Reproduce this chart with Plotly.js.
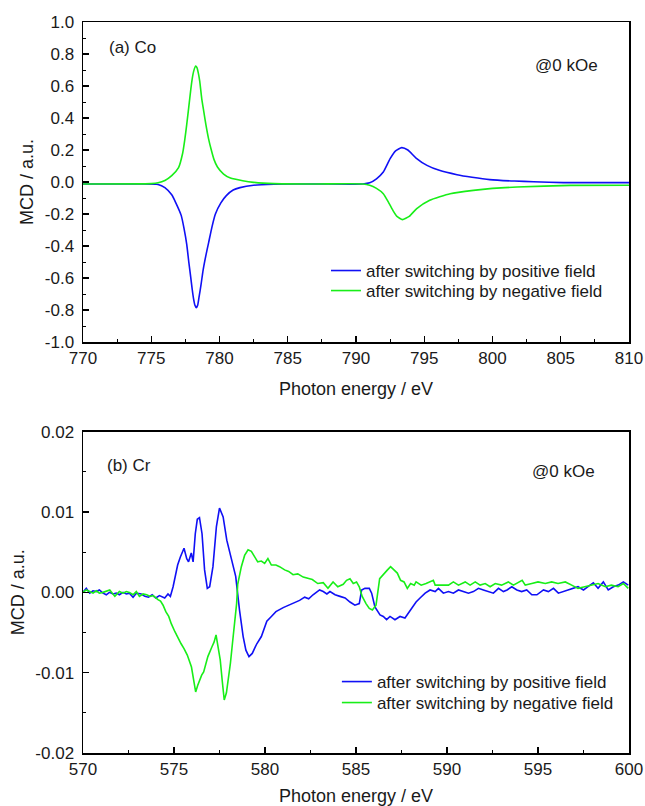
<!DOCTYPE html>
<html>
<head>
<meta charset="utf-8">
<script src="https://cdn.plot.ly/plotly-3.0.1.min.js"></script>
<style>html,body{margin:0;padding:0;background:#fff;}#chart{width:645px;height:806px;}</style>
</head>
<body>
<div id="chart"></div>
<script>
// ---------- (a) Co L-edge MCD ----------
const coPosE = [770,774,775.5,776.0,776.5,776.8,777.2,777.4,777.6,777.75,777.9,778.0,778.1,778.2,778.3,778.4,778.5,778.65,778.8,779.0,779.2,779.45,779.7,780.1,780.5,781.0,781.5,782.5,784,787,790.5,791.0,791.5,792.0,792.5,792.9,793.35,793.8,794.4,795.2,796.1,797.4,798.5,799.8,801.6,803,805.2,810];
const coPosMCD = [-0.012,-0.012,-0.015,-0.035,-0.08,-0.13,-0.21,-0.29,-0.39,-0.5,-0.6,-0.67,-0.73,-0.77,-0.786,-0.77,-0.72,-0.64,-0.55,-0.46,-0.38,-0.28,-0.2,-0.13,-0.085,-0.05,-0.035,-0.02,-0.014,-0.012,-0.012,-0.005,0.02,0.062,0.146,0.195,0.215,0.2,0.15,0.104,0.073,0.046,0.03,0.015,0.006,0.002,-0.004,-0.004];
const coNegE = [770,775,775.5,776.0,776.5,777.0,777.3,777.45,777.6,777.75,777.9,778.0,778.1,778.25,778.35,778.45,778.55,778.7,778.85,779.0,779.2,779.4,779.6,779.85,780.3,780.8,781.7,782.5,784,787,790.5,791.0,791.5,792.0,792.4,792.7,793.0,793.4,793.9,794.45,795.4,796.9,798.6,800,801.8,805.7,810];
const coNegMCD = [-0.012,-0.01,-0.005,0.01,0.04,0.09,0.18,0.26,0.36,0.47,0.58,0.645,0.69,0.725,0.715,0.68,0.63,0.52,0.44,0.36,0.27,0.2,0.14,0.094,0.05,0.025,0.008,-0.002,-0.01,-0.012,-0.012,-0.02,-0.04,-0.073,-0.13,-0.177,-0.215,-0.235,-0.215,-0.166,-0.114,-0.073,-0.052,-0.04,-0.031,-0.021,-0.02];

// ---------- (b) Cr L-edge MCD ----------
const crPosE = [570.0,570.18,570.37,570.55,570.73,570.9,571.1,571.28,571.45,571.65,571.83,572.0,572.2,572.38,572.55,572.75,572.93,573.2,573.4,573.6,573.8,574.0,574.2,574.49,574.67,574.8,574.95,575.2,575.35,575.55,575.7,575.8,575.95,576.05,576.17,576.28,576.4,576.54,576.68,576.83,576.96,577.14,577.33,577.5,577.7,577.9,578.15,578.39,578.6,578.8,578.95,579.12,579.3,579.55,579.8,580.1,580.35,580.6,581.0,581.3,581.54,581.9,582.18,582.4,582.64,583.0,583.2,583.4,583.57,583.85,584.12,584.4,584.67,584.94,585.18,585.31,585.49,585.73,585.86,586.04,586.32,586.5,586.68,586.87,587.14,587.42,587.69,587.87,588.06,588.3,588.52,588.8,589.07,589.35,589.53,589.8,590.08,590.35,590.63,590.9,591.18,591.45,591.73,592.0,592.28,592.55,592.83,593.1,593.3,593.56,593.84,594.1,594.38,594.66,594.94,595.3,595.57,595.85,596.12,596.4,596.67,596.95,597.2,597.5,597.77,598.04,598.3,598.59,598.86,599.14,599.41,599.69,599.96];
const crPosMCD = [0.0,0.0005,-0.0001,0.0002,0.0001,0.0003,-0.0001,-0.0003,0.0,-0.0002,-0.0001,-0.0003,0.0,-0.0002,-0.0001,-0.0006,-0.0001,-0.0002,-0.0005,-0.0006,-0.0003,-0.0007,-0.0004,-0.0007,-0.0002,-0.0005,0.0007,0.0034,0.0044,0.0055,0.0042,0.0038,0.0049,0.0038,0.0073,0.0091,0.0093,0.0073,0.0028,0.0005,0.0007,0.0032,0.0082,0.0105,0.0094,0.0065,0.0042,0.002,-0.0022,-0.0055,-0.0072,-0.008,-0.0076,-0.0064,-0.0055,-0.0036,-0.003,-0.0024,-0.0019,-0.0016,-0.0013,-0.001,-0.0006,-0.0008,-0.0003,0.0003,0.0001,-0.0002,0.0001,-0.0003,-0.0005,-0.0007,-0.0012,-0.0016,-0.0014,0.0003,0.0005,0.0005,-0.0001,-0.0018,-0.0028,-0.003,-0.0034,-0.003,-0.0034,-0.003,-0.0032,-0.0026,-0.002,-0.0012,-0.0007,-0.0001,0.0003,0.0001,0.0005,-0.0001,0.0001,-0.0001,0.0003,0.0001,-0.0001,0.0001,0.0005,0.0003,0.0001,-0.0001,0.0005,0.0001,0.0003,0.0007,0.0003,0.0001,0.0003,-0.0003,-0.0003,0.0003,0.0001,0.0005,-0.0001,0.0001,0.0003,0.0005,0.0007,0.0003,0.0007,0.0012,0.0005,0.0013,0.0003,0.0007,0.0009,0.0013,0.0009];
const crNegE = [570.0,570.18,570.37,570.55,570.73,570.9,571.1,571.28,571.47,571.75,572.0,572.2,572.38,572.55,572.75,572.93,573.1,573.3,573.5,573.7,573.85,574.12,574.26,574.4,574.55,574.71,574.85,575.05,575.2,575.39,575.55,575.73,575.96,576.1,576.19,576.3,576.41,576.52,576.63,576.75,576.86,577.08,577.2,577.31,577.43,577.54,577.65,577.76,577.88,577.99,578.1,578.21,578.32,578.44,578.5,578.6,578.7,578.88,579.07,579.25,579.43,579.6,579.8,579.98,580.16,580.35,580.6,580.8,581.08,581.3,581.54,581.8,582.1,582.36,582.6,582.9,583.2,583.46,583.74,584.0,584.3,584.48,584.67,584.85,585.03,585.18,585.34,585.55,585.73,585.9,586.1,586.3,586.55,586.73,586.9,587.1,587.27,587.45,587.64,587.82,588.0,588.2,588.3,588.58,588.85,589.25,589.35,589.7,590.08,590.35,590.63,591.0,591.27,591.55,591.82,592.1,592.37,592.65,593.0,593.37,593.65,594.13,594.3,594.66,595.0,595.4,595.75,596.1,596.5,596.85,597.2,597.57,597.94,598.3,598.7,599.03,599.4,599.69,599.96];
const crNegMCD = [0.0,0.0003,0.0001,-0.0001,0.0002,-0.0001,0.0,0.0001,0.0003,-0.0005,0.0001,-0.0001,0.0001,0.0,-0.0003,0.0001,-0.0005,-0.0002,-0.0003,-0.0005,-0.0004,-0.0009,-0.0011,-0.0016,-0.0024,-0.003,-0.0039,-0.0049,-0.0056,-0.0064,-0.007,-0.0078,-0.0093,-0.011,-0.0124,-0.0116,-0.0109,-0.0103,-0.0099,-0.009,-0.008,-0.0068,-0.0062,-0.0053,-0.0068,-0.0084,-0.011,-0.0134,-0.0125,-0.0109,-0.0088,-0.0064,-0.0038,-0.0014,0.001,0.0022,0.0032,0.0046,0.0053,0.0051,0.0044,0.0038,0.0039,0.0036,0.0042,0.0034,0.0034,0.0032,0.0028,0.0026,0.0022,0.0023,0.0019,0.0017,0.0016,0.0011,0.0012,0.0005,0.0013,0.0007,0.001,0.0015,0.0017,0.0011,0.0013,0.0007,-0.0005,-0.0014,-0.002,-0.0022,-0.0016,0.0017,0.0024,0.0028,0.0032,0.0028,0.0024,0.0015,0.0013,0.0005,0.0011,0.0009,0.0013,0.0009,0.0011,0.0015,0.0009,0.0009,0.0009,0.0013,0.0009,0.0013,0.0009,0.0013,0.0009,0.0011,0.0007,0.0011,0.0009,0.0013,0.0009,0.0015,0.0009,0.0011,0.0013,0.0011,0.0013,0.0011,0.0013,0.0009,0.0005,0.0007,0.0009,0.0011,0.0007,0.0009,0.0007,0.0011,0.0005];

// ---------- ticks & labels ----------
const coXTicks = [770,775,780,785,790,795,800,805,810];
const coXLabels = ["770","775","780","785","790","795","800","805","810"];
const coYTicks = [1.0,0.8,0.6,0.4,0.2,0.0,-0.2,-0.4,-0.6,-0.8,-1.0];
const coYLabels = ["1.0","0.8","0.6","0.4","0.2","0.0","-0.2","-0.4","-0.6","-0.8","-1.0"];
const crXTicks = [570,575,580,585,590,595,600];
const crXLabels = ["570","575","580","585","590","595","600"];
const crYTicks = [0.02,0.01,0.0,-0.01,-0.02];
const crYLabels = ["0.02","0.01","0.00","-0.01","-0.02"];
const seriesNames = ["after switching by positive field","after switching by negative field"];
const xTitle = "Photon energy / eV";
const yTitle = "MCD / a.u.";

const BLUE = "#1010f5";
const GREEN = "#18ee18";
const FONT = "Liberation Sans, Arial, sans-serif";
const TXT = "#1a1a1a";

const traces = [
  {x: coPosE, y: coPosMCD, type: "scatter", mode: "lines", name: seriesNames[0], line: {color: BLUE, width: 1.6, shape: "spline", smoothing: 0.5}, xaxis: "x", yaxis: "y", legend: "legend"},
  {x: coNegE, y: coNegMCD, type: "scatter", mode: "lines", name: seriesNames[1], line: {color: GREEN, width: 1.6, shape: "spline", smoothing: 0.5}, xaxis: "x", yaxis: "y", legend: "legend2"},
  {x: crPosE, y: crPosMCD, type: "scatter", mode: "lines", name: seriesNames[0], line: {color: BLUE, width: 1.6}, xaxis: "x2", yaxis: "y2", legend: "legend3"},
  {x: crNegE, y: crNegMCD, type: "scatter", mode: "lines", name: seriesNames[1], line: {color: GREEN, width: 1.6}, xaxis: "x2", yaxis: "y2", legend: "legend4"}
];

function xAxis(range, tv, tt, anchor, tick0) {
  return {
    range: range, domain: [0, 1], anchor: anchor,
    tickmode: "array", tickvals: tv, ticktext: tt,
    ticks: "inside", ticklen: 6, tickwidth: 1.2, tickcolor: "#000",
    minor: {dtick: 2.5, tick0: tick0, ticks: "inside", ticklen: 3, tickwidth: 1, tickcolor: "#000", showgrid: false},
    showline: true, linecolor: "#000", linewidth: 1.5, mirror: true,
    showgrid: false, zeroline: false,
    tickfont: {family: FONT, size: 17, color: TXT},
    title: {text: xTitle, font: {family: FONT, size: 18, color: TXT}, standoff: 15}
  };
}
function yAxis(range, tv, tt, anchor, domain, minorD) {
  return {
    range: range, domain: domain, anchor: anchor,
    tickmode: "array", tickvals: tv, ticktext: tt,
    ticks: "inside", ticklen: 6, tickwidth: 1.2, tickcolor: "#000",
    minor: {dtick: minorD, tick0: 0, ticks: "inside", ticklen: 3, tickwidth: 1, tickcolor: "#000", showgrid: false},
    showline: true, linecolor: "#000", linewidth: 1.5, mirror: true,
    showgrid: false, zeroline: false,
    tickfont: {family: FONT, size: 17, color: TXT},
    ticklabelstandoff: 4,
    title: {text: yTitle, font: {family: FONT, size: 18, color: TXT}, standoff: 6}
  };
}
function leg(x, y) {
  return {x: x, y: y, xanchor: "left", yanchor: "middle", bgcolor: "rgba(0,0,0,0)", borderwidth: 0,
          font: {family: FONT, size: 17, color: TXT}, itemwidth: 30};
}

const layout = {
  width: 645, height: 806,
  margin: {l: 83, r: 16, t: 22, b: 53},
  paper_bgcolor: "#fff", plot_bgcolor: "#fff",
  showlegend: true,
  xaxis: xAxis([770, 810], coXTicks, coXLabels, "y", 770),
  yaxis: yAxis([-1.0, 1.0], coYTicks, coYLabels, "x", [0.5622, 1], 0.1),
  xaxis2: xAxis([570, 600], crXTicks, crXLabels, "y2", 570),
  yaxis2: yAxis([-0.02, 0.02], crYTicks, crYLabels, "x2", [0, 0.4395], 0.005),
  legend: leg(0.445, 0.6594),
  legend2: leg(0.445, 0.6320),
  legend3: leg(0.465, 0.0971),
  legend4: leg(0.465, 0.0684),
  annotations: [
    {text: "(a) Co", x: 771.76, y: 0.842, xref: "x", yref: "y", xanchor: "left", yanchor: "middle", showarrow: false, font: {family: FONT, size: 17, color: TXT}},
    {text: "@0 kOe", x: 803.0, y: 0.728, xref: "x", yref: "y", xanchor: "left", yanchor: "middle", showarrow: false, font: {family: FONT, size: 17, color: TXT}},
    {text: "(b) Cr", x: 571.2, y: 0.01585, xref: "x2", yref: "y2", xanchor: "left", yanchor: "middle", showarrow: false, font: {family: FONT, size: 17, color: TXT}},
    {text: "@0 kOe", x: 594.56, y: 0.0150, xref: "x2", yref: "y2", xanchor: "left", yanchor: "middle", showarrow: false, font: {family: FONT, size: 17, color: TXT}}
  ]
};

Plotly.newPlot("chart", traces, layout, {displayModeBar: false, staticPlot: true});
</script>
</body>
</html>
